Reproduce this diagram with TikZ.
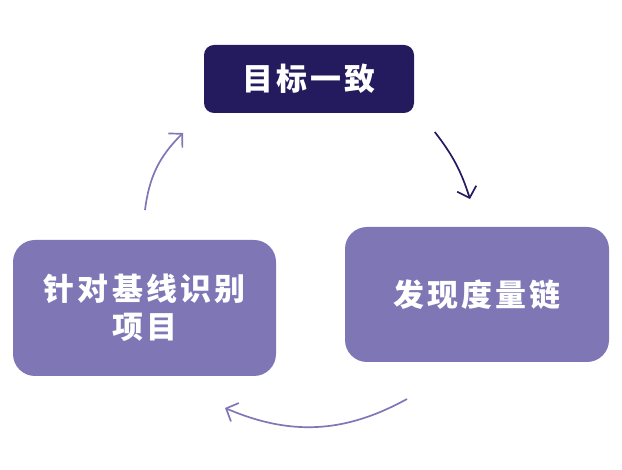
\documentclass[tikz,border=0pt]{standalone}
\usepackage{fontspec}
\newfontfamily\cjk[LetterSpace=10]{Noto Sans CJK SC}
\usetikzlibrary{arrows.meta}
\definecolor{darkblue}{HTML}{241A5E}
\definecolor{lilac}{HTML}{7F76B6}

\begin{document}
\begin{tikzpicture}[
  box/.style={rounded corners=0.55cm, fill=lilac, text=white, align=center, inner sep=0pt,
    font=\cjk\bfseries\fontsize{22}{27}\selectfont},
  cycle/.style={-{Straight Barb[length=2.4mm, width=5mm]}, line width=1.2pt, lilac}
]

\useasboundingbox (0,0) rectangle (15.55,11.75);

\node [box, fill=darkblue, rounded corners=0.25cm, minimum width=5.25cm, minimum height=1.7cm] (goal) at (7.725,9.775) {目标一致};
\node [box, minimum width=6.6cm, minimum height=3.375cm] (chain) at (11.925,4.3875) {发现度量链};
\node [box, minimum width=6.575cm, minimum height=3.4cm] (base) at (3.6125,4.05) {针对基线识别\\项目};

% ends of the arrows
\coordinate (goal out) at (10.87,8.45);
\coordinate (chain in) at (11.75,6.775);
\coordinate (chain out) at (10.175,1.775);
\coordinate (base in) at (5.625,1.55);
\coordinate (base out) at (3.625,6.5);
\coordinate (goal in) at (4.575,8.425);

\draw [cycle, darkblue] (goal out) to [bend left=10] (chain in);
\draw [cycle] (chain out) to [bend left=26] (base in);
\draw [cycle] (base out) to [bend left=19] (goal in);

\end{tikzpicture}
\end{document}
